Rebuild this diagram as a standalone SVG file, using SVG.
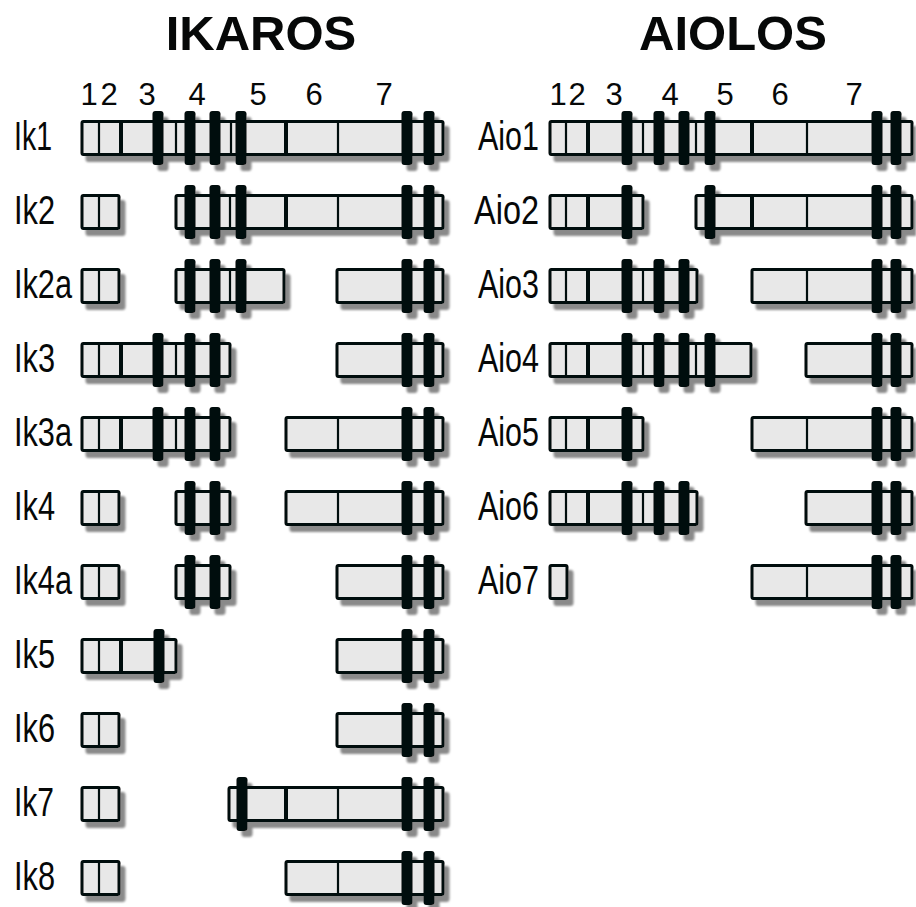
<svg xmlns="http://www.w3.org/2000/svg" xmlns:xlink="http://www.w3.org/1999/xlink" width="916" height="907" viewBox="0 0 916 907">
<style>
.tt{font-family:"Liberation Sans",Arial,sans-serif;font-weight:bold;font-size:49px;fill:#060808;text-anchor:middle}
.num{font-family:"Liberation Sans",Arial,sans-serif;font-size:31px;fill:#060808;text-anchor:middle}
.lb{font-family:"Liberation Sans",Arial,sans-serif;font-size:40px;fill:#060808}
.ex{fill:#e8e8e8;stroke:#060808;stroke-width:3}
.dv{stroke:#060808;stroke-width:2.2;fill:none}
.dk{stroke:#060808;stroke-width:4;fill:none}
.zf{fill:#060808}
</style>
<defs>
<filter id="sh" filterUnits="userSpaceOnUse" x="0" y="-50" width="916" height="100">
<feOffset in="SourceAlpha" dx="5" dy="6" result="o"/>
<feGaussianBlur in="o" stdDeviation="0.8" result="b"/>
<feFlood flood-color="#8a8a8a"/>
<feComposite in2="b" operator="in" result="s"/>
<feMerge><feMergeNode in="s"/><feMergeNode in="SourceGraphic"/></feMerge>
</filter>
<rect id="z" class="zf" x="-5.5" y="-27" width="11" height="54" rx="3"/>
</defs>

<g id="titles">
<text class="tt" x="261" y="50">IKAROS</text>
<text class="tt" x="733" y="50">AIOLOS</text>
</g>
<g id="exon-numbers">
<text class="num" x="89" y="105">1</text>
<text class="num" x="109" y="105">2</text>
<text class="num" x="147" y="105">3</text>
<text class="num" x="197" y="105">4</text>
<text class="num" x="258" y="105">5</text>
<text class="num" x="314" y="105">6</text>
<text class="num" x="384" y="105">7</text>
<text class="num" x="558" y="105">1</text>
<text class="num" x="577" y="105">2</text>
<text class="num" x="614" y="105">3</text>
<text class="num" x="670" y="105">4</text>
<text class="num" x="725" y="105">5</text>
<text class="num" x="780" y="105">6</text>
<text class="num" x="854" y="105">7</text>
</g>

<g id="ik1" transform="translate(0,138)">
<text class="lb" x="14" y="11.5" textLength="38" lengthAdjust="spacingAndGlyphs">Ik1</text>
<g filter="url(#sh)">
<rect class="ex" x="82" y="-16.5" width="361" height="33" rx="1.5"/>
<path class="dv" d="M99-16.5v33M176-16.5v33M231-16.5v33M338-16.5v33"/>
<path class="dk" d="M121-16.5v33M286-16.5v33"/>
<use xlink:href="#z" x="158"/><use xlink:href="#z" x="190"/><use xlink:href="#z" x="215"/><use xlink:href="#z" x="241"/><use xlink:href="#z" x="407"/><use xlink:href="#z" x="429"/>
</g>
</g>

<g id="ik2" transform="translate(0,212)">
<text class="lb" x="14" y="11.5" textLength="41" lengthAdjust="spacingAndGlyphs">Ik2</text>
<g filter="url(#sh)">
<rect class="ex" x="82" y="-16.5" width="37" height="33" rx="1.5"/>
<path class="dv" d="M99-16.5v33"/>
<rect class="ex" x="176" y="-16.5" width="267" height="33" rx="1.5"/>
<path class="dv" d="M230-16.5v33M338-16.5v33"/>
<path class="dk" d="M286-16.5v33"/>
<use xlink:href="#z" x="190"/><use xlink:href="#z" x="215"/><use xlink:href="#z" x="241"/><use xlink:href="#z" x="407"/><use xlink:href="#z" x="429"/>
</g>
</g>

<g id="ik2a" transform="translate(0,286)">
<text class="lb" x="14" y="11.5" textLength="58" lengthAdjust="spacingAndGlyphs">Ik2a</text>
<g filter="url(#sh)">
<rect class="ex" x="82" y="-16.5" width="37" height="33" rx="1.5"/>
<path class="dv" d="M99-16.5v33"/>
<rect class="ex" x="176" y="-16.5" width="108" height="33" rx="1.5"/>
<path class="dv" d="M230-16.5v33"/>
<use xlink:href="#z" x="190"/><use xlink:href="#z" x="215"/><use xlink:href="#z" x="241"/>
<rect class="ex" x="337" y="-16.5" width="106" height="33" rx="1.5"/>
<use xlink:href="#z" x="407"/><use xlink:href="#z" x="429"/>
</g>
</g>

<g id="ik3" transform="translate(0,360)">
<text class="lb" x="14" y="11.5" textLength="41" lengthAdjust="spacingAndGlyphs">Ik3</text>
<g filter="url(#sh)">
<rect class="ex" x="82" y="-16.5" width="148" height="33" rx="1.5"/>
<path class="dv" d="M99-16.5v33M176-16.5v33"/>
<path class="dk" d="M121-16.5v33"/>
<use xlink:href="#z" x="158"/><use xlink:href="#z" x="190"/><use xlink:href="#z" x="215"/>
<rect class="ex" x="337" y="-16.5" width="106" height="33" rx="1.5"/>
<use xlink:href="#z" x="407"/><use xlink:href="#z" x="429"/>
</g>
</g>

<g id="ik3a" transform="translate(0,434)">
<text class="lb" x="14" y="11.5" textLength="58" lengthAdjust="spacingAndGlyphs">Ik3a</text>
<g filter="url(#sh)">
<rect class="ex" x="82" y="-16.5" width="148" height="33" rx="1.5"/>
<path class="dv" d="M99-16.5v33M176-16.5v33"/>
<path class="dk" d="M121-16.5v33"/>
<use xlink:href="#z" x="158"/><use xlink:href="#z" x="190"/><use xlink:href="#z" x="215"/>
<rect class="ex" x="286" y="-16.5" width="157" height="33" rx="1.5"/>
<path class="dv" d="M338-16.5v33"/>
<use xlink:href="#z" x="407"/><use xlink:href="#z" x="429"/>
</g>
</g>

<g id="ik4" transform="translate(0,508)">
<text class="lb" x="14" y="11.5" textLength="41" lengthAdjust="spacingAndGlyphs">Ik4</text>
<g filter="url(#sh)">
<rect class="ex" x="82" y="-16.5" width="37" height="33" rx="1.5"/>
<path class="dv" d="M99-16.5v33"/>
<rect class="ex" x="176" y="-16.5" width="54" height="33" rx="1.5"/>
<use xlink:href="#z" x="190"/><use xlink:href="#z" x="215"/>
<rect class="ex" x="286" y="-16.5" width="157" height="33" rx="1.5"/>
<path class="dv" d="M338-16.5v33"/>
<use xlink:href="#z" x="407"/><use xlink:href="#z" x="429"/>
</g>
</g>

<g id="ik4a" transform="translate(0,582)">
<text class="lb" x="14" y="11.5" textLength="58" lengthAdjust="spacingAndGlyphs">Ik4a</text>
<g filter="url(#sh)">
<rect class="ex" x="82" y="-16.5" width="37" height="33" rx="1.5"/>
<path class="dv" d="M99-16.5v33"/>
<rect class="ex" x="176" y="-16.5" width="54" height="33" rx="1.5"/>
<use xlink:href="#z" x="190"/><use xlink:href="#z" x="215"/>
<rect class="ex" x="337" y="-16.5" width="106" height="33" rx="1.5"/>
<use xlink:href="#z" x="407"/><use xlink:href="#z" x="429"/>
</g>
</g>

<g id="ik5" transform="translate(0,656)">
<text class="lb" x="14" y="11.5" textLength="41" lengthAdjust="spacingAndGlyphs">Ik5</text>
<g filter="url(#sh)">
<rect class="ex" x="82" y="-16.5" width="94" height="33" rx="1.5"/>
<path class="dv" d="M99-16.5v33"/>
<path class="dk" d="M121-16.5v33"/>
<use xlink:href="#z" x="159"/>
<rect class="ex" x="337" y="-16.5" width="106" height="33" rx="1.5"/>
<use xlink:href="#z" x="407"/><use xlink:href="#z" x="429"/>
</g>
</g>

<g id="ik6" transform="translate(0,730)">
<text class="lb" x="14" y="11.5" textLength="41" lengthAdjust="spacingAndGlyphs">Ik6</text>
<g filter="url(#sh)">
<rect class="ex" x="82" y="-16.5" width="37" height="33" rx="1.5"/>
<path class="dv" d="M99-16.5v33"/>
<rect class="ex" x="337" y="-16.5" width="106" height="33" rx="1.5"/>
<use xlink:href="#z" x="407"/><use xlink:href="#z" x="429"/>
</g>
</g>

<g id="ik7" transform="translate(0,804)">
<text class="lb" x="14" y="11.5" textLength="40" lengthAdjust="spacingAndGlyphs">Ik7</text>
<g filter="url(#sh)">
<rect class="ex" x="82" y="-16.5" width="37" height="33" rx="1.5"/>
<path class="dv" d="M99-16.5v33"/>
<rect class="ex" x="229" y="-16.5" width="214" height="33" rx="1.5"/>
<path class="dv" d="M338-16.5v33"/>
<path class="dk" d="M286-16.5v33"/>
<use xlink:href="#z" x="242"/><use xlink:href="#z" x="407"/><use xlink:href="#z" x="429"/>
</g>
</g>

<g id="ik8" transform="translate(0,878)">
<text class="lb" x="14" y="11.5" textLength="41" lengthAdjust="spacingAndGlyphs">Ik8</text>
<g filter="url(#sh)">
<rect class="ex" x="82" y="-16.5" width="37" height="33" rx="1.5"/>
<path class="dv" d="M99-16.5v33"/>
<rect class="ex" x="286" y="-16.5" width="157" height="33" rx="1.5"/>
<path class="dv" d="M338-16.5v33"/>
<use xlink:href="#z" x="407"/><use xlink:href="#z" x="429"/>
</g>
</g>

<g id="aio1" transform="translate(0,138)">
<text class="lb" x="478" y="11.5" textLength="61" lengthAdjust="spacingAndGlyphs">Aio1</text>
<g filter="url(#sh)">
<rect class="ex" x="550" y="-16.5" width="362" height="33" rx="1.5"/>
<path class="dv" d="M566-16.5v33M643-16.5v33M696-16.5v33M807-16.5v33"/>
<path class="dk" d="M588-16.5v33M752-16.5v33"/>
<use xlink:href="#z" x="627"/><use xlink:href="#z" x="659"/><use xlink:href="#z" x="684"/><use xlink:href="#z" x="710"/><use xlink:href="#z" x="877"/><use xlink:href="#z" x="896"/>
</g>
</g>

<g id="aio2" transform="translate(0,212)">
<text class="lb" x="474" y="11.5" textLength="65" lengthAdjust="spacingAndGlyphs">Aio2</text>
<g filter="url(#sh)">
<rect class="ex" x="550" y="-16.5" width="93" height="33" rx="1.5"/>
<path class="dv" d="M566-16.5v33"/>
<path class="dk" d="M588-16.5v33"/>
<use xlink:href="#z" x="627"/>
<rect class="ex" x="696" y="-16.5" width="216" height="33" rx="1.5"/>
<path class="dk" d="M752-16.5v33"/>
<path class="dv" d="M807-16.5v33"/>
<use xlink:href="#z" x="710"/><use xlink:href="#z" x="877"/><use xlink:href="#z" x="896"/>
</g>
</g>

<g id="aio3" transform="translate(0,286)">
<text class="lb" x="478" y="11.5" textLength="61" lengthAdjust="spacingAndGlyphs">Aio3</text>
<g filter="url(#sh)">
<rect class="ex" x="550" y="-16.5" width="147" height="33" rx="1.5"/>
<path class="dv" d="M566-16.5v33M643-16.5v33"/>
<path class="dk" d="M588-16.5v33"/>
<use xlink:href="#z" x="627"/><use xlink:href="#z" x="659"/><use xlink:href="#z" x="684"/>
<rect class="ex" x="752" y="-16.5" width="160" height="33" rx="1.5"/>
<path class="dv" d="M807-16.5v33"/>
<use xlink:href="#z" x="877"/><use xlink:href="#z" x="896"/>
</g>
</g>

<g id="aio4" transform="translate(0,360)">
<text class="lb" x="478" y="11.5" textLength="61" lengthAdjust="spacingAndGlyphs">Aio4</text>
<g filter="url(#sh)">
<rect class="ex" x="550" y="-16.5" width="201" height="33" rx="1.5"/>
<path class="dv" d="M566-16.5v33M643-16.5v33M696-16.5v33"/>
<path class="dk" d="M588-16.5v33"/>
<use xlink:href="#z" x="627"/><use xlink:href="#z" x="659"/><use xlink:href="#z" x="684"/><use xlink:href="#z" x="710"/>
<rect class="ex" x="806" y="-16.5" width="106" height="33" rx="1.5"/>
<use xlink:href="#z" x="877"/><use xlink:href="#z" x="896"/>
</g>
</g>

<g id="aio5" transform="translate(0,434)">
<text class="lb" x="478" y="11.5" textLength="61" lengthAdjust="spacingAndGlyphs">Aio5</text>
<g filter="url(#sh)">
<rect class="ex" x="550" y="-16.5" width="93" height="33" rx="1.5"/>
<path class="dv" d="M566-16.5v33"/>
<path class="dk" d="M588-16.5v33"/>
<use xlink:href="#z" x="627"/>
<rect class="ex" x="752" y="-16.5" width="160" height="33" rx="1.5"/>
<path class="dv" d="M807-16.5v33"/>
<use xlink:href="#z" x="877"/><use xlink:href="#z" x="896"/>
</g>
</g>

<g id="aio6" transform="translate(0,508)">
<text class="lb" x="478" y="11.5" textLength="61" lengthAdjust="spacingAndGlyphs">Aio6</text>
<g filter="url(#sh)">
<rect class="ex" x="550" y="-16.5" width="147" height="33" rx="1.5"/>
<path class="dv" d="M566-16.5v33M643-16.5v33"/>
<path class="dk" d="M588-16.5v33"/>
<use xlink:href="#z" x="627"/><use xlink:href="#z" x="659"/><use xlink:href="#z" x="684"/>
<rect class="ex" x="806" y="-16.5" width="106" height="33" rx="1.5"/>
<use xlink:href="#z" x="877"/><use xlink:href="#z" x="896"/>
</g>
</g>

<g id="aio7" transform="translate(0,582)">
<text class="lb" x="478" y="11.5" textLength="61" lengthAdjust="spacingAndGlyphs">Aio7</text>
<g filter="url(#sh)">
<rect class="ex" x="550" y="-16.5" width="17" height="33" rx="1.5"/>
<rect class="ex" x="752" y="-16.5" width="160" height="33" rx="1.5"/>
<path class="dv" d="M807-16.5v33"/>
<use xlink:href="#z" x="877"/><use xlink:href="#z" x="896"/>
</g>
</g>
</svg>
